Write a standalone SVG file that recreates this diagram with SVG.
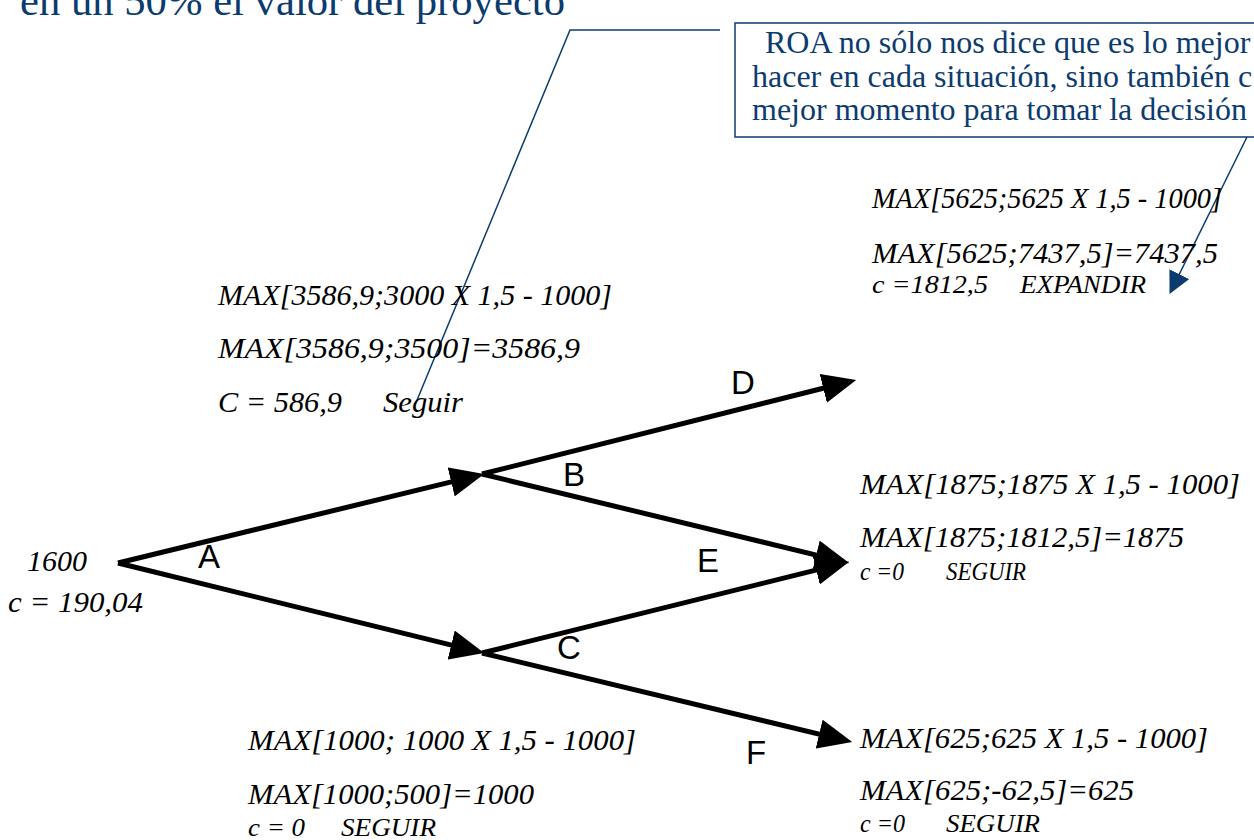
<svg xmlns="http://www.w3.org/2000/svg" width="1254" height="840" viewBox="0 0 1254 840">
<style>
.t{font-family:"Liberation Serif","Times New Roman",serif;font-style:italic;font-size:30px;fill:#000}
.s{font-size:26px}
.lb{font-family:"Liberation Sans",Arial,sans-serif;font-size:33px;fill:#000}
.blue{font-family:"Liberation Serif","Times New Roman",serif;fill:#0c3b6e}
.edge{stroke:#000;stroke-width:5;fill:none;marker-end:url(#ah)}
.lead{stroke:#0c3b6e;stroke-width:1.5;fill:none}
</style>
<defs>
<marker id="ah" markerUnits="userSpaceOnUse" markerWidth="34" markerHeight="30" viewBox="0 0 32 28" refX="26" refY="14" orient="auto">
<path d="M0,0 L32,14 L0,28 Z" fill="#000"/>
</marker>
<marker id="bh" markerUnits="userSpaceOnUse" markerWidth="22" markerHeight="22" viewBox="0 0 20 20" refX="17" refY="10" orient="auto">
<path d="M0,0 L20,10 L0,20 Z" fill="#0c3b6e"/>
</marker>
</defs>
<rect width="1254" height="840" fill="#fff"/>
<text class="blue" x="20" y="15" font-size="42" textLength="545" lengthAdjust="spacingAndGlyphs">en un 50% el valor del proyecto</text>
<g id="callout">
<rect x="735" y="23" width="560" height="114" fill="#fff" stroke="#0c3b6e" stroke-width="1.5"/>
<text class="blue" x="765" y="53" font-size="32">ROA no sólo nos dice que es lo mejor</text>
<text class="blue" x="752" y="87" font-size="32">hacer en cada situación, sino también c</text>
<text class="blue" x="752" y="120" font-size="32">mejor momento para tomar la decisión</text>
</g>
<g id="leaders">
<polyline class="lead" points="720,30 570,30 415,405"/>
<line class="lead" x1="1247" y1="137" x2="1171" y2="291" marker-end="url(#bh)"/>
</g>
<g id="connectors">
<line class="edge" x1="118" y1="563" x2="478" y2="475.4"/>
<line class="edge" x1="482" y1="474" x2="850" y2="381.5"/>
<line class="edge" x1="482" y1="474" x2="843" y2="561.6"/>
<line class="edge" x1="118" y1="563" x2="478" y2="651.6"/>
<line class="edge" x1="482" y1="653" x2="843" y2="563.4"/>
<line class="edge" x1="482" y1="653" x2="846" y2="740.6"/>
</g>
<g id="edge-labels">
<text class="lb" x="198" y="568">A</text>
<text class="lb" x="563" y="486">B</text>
<text class="lb" x="557" y="659">C</text>
<text class="lb" x="731" y="394">D</text>
<text class="lb" x="697" y="572">E</text>
<text class="lb" x="746" y="764">F</text>
</g>
<g id="node-root">
<text class="t" x="27" y="571" textLength="60" lengthAdjust="spacingAndGlyphs">1600</text>
<text class="t" x="8" y="612" textLength="135" lengthAdjust="spacingAndGlyphs">c = 190,04</text>
</g>
<g id="node-B">
<text class="t" x="218" y="305" textLength="394" lengthAdjust="spacingAndGlyphs">MAX[3586,9;3000 X 1,5 - 1000]</text>
<text class="t" x="218" y="358" textLength="362" lengthAdjust="spacingAndGlyphs">MAX[3586,9;3500]=3586,9</text>
<text class="t" x="218" y="412" textLength="124" lengthAdjust="spacingAndGlyphs">C = 586,9</text>
<text class="t" x="383" y="412" textLength="80" lengthAdjust="spacingAndGlyphs">Seguir</text>
</g>
<g id="node-D">
<text class="t" x="872" y="208" textLength="350" lengthAdjust="spacingAndGlyphs">MAX[5625;5625 X 1,5 - 1000]</text>
<text class="t" x="872" y="263" textLength="346" lengthAdjust="spacingAndGlyphs">MAX[5625;7437,5]=7437,5</text>
<text class="t s" x="872" y="293" textLength="116" lengthAdjust="spacingAndGlyphs">c =1812,5</text>
<text class="t s" x="1020" y="293" textLength="126" lengthAdjust="spacingAndGlyphs">EXPANDIR</text>
</g>
<g id="node-E">
<text class="t" x="860" y="494" textLength="380" lengthAdjust="spacingAndGlyphs">MAX[1875;1875 X 1,5 - 1000]</text>
<text class="t" x="860" y="547" textLength="324" lengthAdjust="spacingAndGlyphs">MAX[1875;1812,5]=1875</text>
<text class="t s" x="860" y="580" textLength="44" lengthAdjust="spacingAndGlyphs">c =0</text>
<text class="t s" x="946" y="580" textLength="80" lengthAdjust="spacingAndGlyphs">SEGUIR</text>
</g>
<g id="node-C">
<text class="t" x="248" y="750" textLength="388" lengthAdjust="spacingAndGlyphs">MAX[1000; 1000 X 1,5 - 1000]</text>
<text class="t" x="248" y="804" textLength="286" lengthAdjust="spacingAndGlyphs">MAX[1000;500]=1000</text>
<text class="t s" x="248" y="836" textLength="57" lengthAdjust="spacingAndGlyphs">c = 0</text>
<text class="t s" x="341" y="836" textLength="95" lengthAdjust="spacingAndGlyphs">SEGUIR</text>
</g>
<g id="node-F">
<text class="t" x="860" y="748" textLength="348" lengthAdjust="spacingAndGlyphs">MAX[625;625 X 1,5 - 1000]</text>
<text class="t" x="860" y="800" textLength="274" lengthAdjust="spacingAndGlyphs">MAX[625;-62,5]=625</text>
<text class="t s" x="860" y="832" textLength="45" lengthAdjust="spacingAndGlyphs">c =0</text>
<text class="t s" x="946" y="832" textLength="94" lengthAdjust="spacingAndGlyphs">SEGUIR</text>
</g>
</svg>
